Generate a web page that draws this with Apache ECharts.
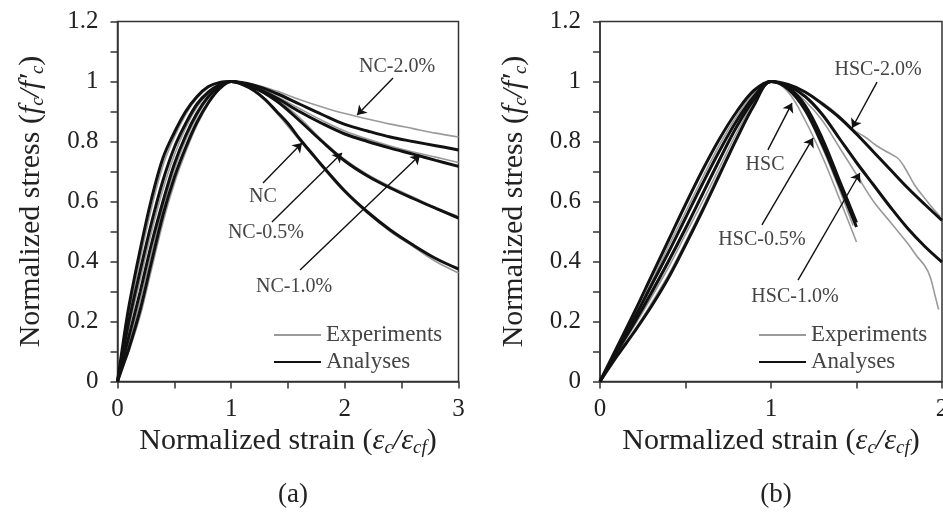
<!DOCTYPE html>
<html>
<head>
<meta charset="utf-8">
<script src="https://cdn.jsdelivr.net/npm/echarts/dist/echarts.min.js"></script>
<style>
    html, body {margin: 0; padding: 0; background: #fff;}
    #chart {width: 943px; height: 528px;}
</style>
</head>
<body>
<div id="chart"></div>
<script>
    // (a) normal concrete, strain / stress pairs
    var ncExp = [[0,0],[0.05,0.11],[0.1,0.22],[0.2,0.41],[0.3,0.58],[0.4,0.72],[0.5,0.815],[0.6,0.89],[0.7,0.945],[0.8,0.98],[0.9,0.996],[1,1],
        [1.1,0.99],[1.2,0.968],[1.3,0.935],[1.4,0.895],[1.5,0.85],[1.6,0.805],[1.7,0.76],[1.8,0.715],[2.0,0.63],[2.2,0.56],[2.4,0.5],[2.6,0.45],[2.8,0.4],[3.0,0.362]];
    var ncAna = [[0,0],[0.05,0.13],[0.1,0.25],[0.2,0.44],[0.3,0.61],[0.4,0.745],[0.5,0.83],[0.6,0.9],[0.7,0.95],[0.8,0.983],[0.9,0.997],[1,1],
        [1.1,0.99],[1.2,0.97],[1.3,0.94],[1.4,0.9],[1.5,0.86],[1.6,0.81],[1.7,0.765],[1.8,0.72],[2.0,0.635],[2.2,0.565],[2.4,0.505],[2.6,0.455],[2.8,0.41],[3.0,0.375]];
    var nc05Exp = [[0,0],[0.05,0.09],[0.1,0.18],[0.2,0.34],[0.3,0.5],[0.4,0.64],[0.5,0.755],[0.6,0.845],[0.7,0.915],[0.8,0.96],[0.9,0.99],[1,1],
        [1.2,0.982],[1.4,0.94],[1.6,0.88],[1.8,0.805],[2.0,0.74],[2.2,0.69],[2.4,0.65],[2.6,0.615],[2.8,0.58],[3.0,0.55]];
    var nc05Ana = [[0,0],[0.05,0.1],[0.1,0.2],[0.2,0.37],[0.3,0.53],[0.4,0.67],[0.5,0.78],[0.6,0.86],[0.7,0.925],[0.8,0.965],[0.9,0.99],[1,1],
        [1.2,0.98],[1.4,0.935],[1.6,0.87],[1.8,0.8],[2.0,0.735],[2.2,0.685],[2.4,0.645],[2.6,0.61],[2.8,0.577],[3.0,0.545]];
    var nc10Exp = [[0,0],[0.05,0.065],[0.1,0.13],[0.2,0.27],[0.3,0.43],[0.4,0.58],[0.5,0.705],[0.6,0.805],[0.7,0.885],[0.8,0.945],[0.9,0.983],[1,1],
        [1.2,0.985],[1.4,0.95],[1.6,0.91],[1.8,0.87],[2.0,0.835],[2.2,0.808],[2.4,0.785],[2.6,0.765],[2.8,0.748],[3.0,0.73]];
    var nc10Ana = [[0,0],[0.05,0.075],[0.1,0.15],[0.2,0.3],[0.3,0.46],[0.4,0.6],[0.5,0.725],[0.6,0.82],[0.7,0.895],[0.8,0.95],[0.9,0.985],[1,1],
        [1.2,0.98],[1.4,0.945],[1.6,0.9],[1.8,0.86],[2.0,0.825],[2.2,0.8],[2.4,0.778],[2.6,0.758],[2.8,0.737],[3.0,0.717]];
    var nc20Exp = [[0,0],[0.05,0.05],[0.1,0.1],[0.2,0.22],[0.3,0.375],[0.4,0.53],[0.5,0.66],[0.6,0.765],[0.7,0.855],[0.8,0.925],[0.9,0.975],[1,1],
        [1.2,0.99],[1.4,0.968],[1.6,0.94],[1.8,0.915],[2.0,0.893],[2.2,0.875],[2.4,0.858],[2.6,0.843],[2.8,0.828],[3.0,0.815]];
    var nc20Ana = [[0,0],[0.05,0.055],[0.1,0.11],[0.2,0.24],[0.3,0.4],[0.4,0.555],[0.5,0.68],[0.6,0.78],[0.7,0.865],[0.8,0.93],[0.9,0.977],[1,1],
        [1.2,0.988],[1.4,0.96],[1.6,0.925],[1.8,0.89],[2.0,0.857],[2.2,0.835],[2.4,0.815],[2.6,0.8],[2.8,0.786],[3.0,0.772]];

    // (b) high strength concrete
    var hscExp = [[0,0],[0.1,0.105],[0.2,0.215],[0.3,0.33],[0.4,0.45],[0.5,0.565],[0.6,0.68],[0.7,0.79],[0.8,0.885],[0.9,0.96],[1,1],
        [1.1,0.965],[1.2,0.87],[1.3,0.75],[1.4,0.61],[1.5,0.465]];
    var hscAna = [[0,0],[0.1,0.115],[0.2,0.23],[0.3,0.35],[0.4,0.47],[0.5,0.59],[0.6,0.705],[0.7,0.81],[0.8,0.9],[0.9,0.97],[1,1],
        [1.1,0.975],[1.2,0.905],[1.3,0.79],[1.4,0.655],[1.5,0.515]];
    var hsc05Exp = [[0,0],[0.1,0.095],[0.2,0.195],[0.3,0.3],[0.4,0.405],[0.5,0.515],[0.6,0.63],[0.7,0.745],[0.8,0.85],[0.9,0.94],[1,1],
        [1.1,0.975],[1.2,0.9],[1.3,0.78],[1.4,0.64],[1.48,0.52]];
    var hsc05Ana = [[0,0],[0.1,0.105],[0.2,0.21],[0.3,0.32],[0.4,0.43],[0.5,0.545],[0.6,0.66],[0.7,0.77],[0.8,0.87],[0.9,0.95],[1,1],
        [1.1,0.98],[1.2,0.92],[1.3,0.81],[1.4,0.67],[1.5,0.53]];
    var hsc10Exp = [[0,0],[0.1,0.09],[0.2,0.17],[0.3,0.26],[0.4,0.355],[0.5,0.465],[0.6,0.58],[0.7,0.7],[0.8,0.815],[0.9,0.925],[1,1],
        [1.1,0.98],[1.2,0.935],[1.3,0.87],[1.4,0.78],[1.5,0.69],[1.6,0.6],[1.7,0.53],[1.8,0.46],[1.85,0.42],[1.9,0.385],[1.93,0.35],[1.96,0.285],[1.98,0.24]];
    var hsc10Ana = [[0,0],[0.1,0.1],[0.2,0.195],[0.3,0.295],[0.4,0.4],[0.5,0.51],[0.6,0.625],[0.7,0.74],[0.8,0.85],[0.9,0.94],[1,1],
        [1.1,0.985],[1.2,0.95],[1.3,0.89],[1.4,0.81],[1.5,0.73],[1.6,0.655],[1.7,0.58],[1.8,0.51],[1.9,0.45],[2.0,0.398]];
    var hsc20Exp = [[0,0],[0.1,0.095],[0.2,0.185],[0.3,0.28],[0.4,0.38],[0.5,0.49],[0.6,0.6],[0.7,0.715],[0.8,0.83],[0.9,0.93],[1,1],
        [1.1,0.99],[1.2,0.965],[1.3,0.93],[1.4,0.885],[1.48,0.84],[1.55,0.815],[1.62,0.785],[1.68,0.765],[1.74,0.745],[1.78,0.715],[1.84,0.655],[1.9,0.61],[1.95,0.575],[1.99,0.55]];
    var hsc20Ana = [[0,0],[0.1,0.085],[0.2,0.165],[0.3,0.25],[0.4,0.345],[0.5,0.455],[0.6,0.57],[0.7,0.69],[0.8,0.81],[0.9,0.92],[1,1],
        [1.1,0.99],[1.2,0.965],[1.3,0.925],[1.4,0.88],[1.5,0.825],[1.6,0.765],[1.7,0.705],[1.8,0.645],[1.9,0.59],[2.0,0.537]];

    // labels + arrows (tail -> head), in data units
    var ncLabels = [['NC-2.0%',2.46,1.048],['NC',1.28,0.615],['NC-0.5%',1.306,0.495],['NC-1.0%',1.553,0.315]];
    var ncArrows = [[2.424,1.012,2.108,0.888],[1.28,0.662,1.623,0.795],[1.359,0.532,1.975,0.762],[1.606,0.372,2.661,0.755]];
    var hscLabels = [['HSC-2.0%',1.626,1.038],['HSC',0.965,0.722],['HSC-0.5%',0.947,0.472],['HSC-1.0%',1.14,0.282]];
    var hscArrows = [[1.62,0.998,1.474,0.845],[0.982,0.772,1.123,0.928],[0.947,0.522,1.246,0.812],[1.158,0.338,1.52,0.695]];

    var xMax = [3, 2];
    var serif = '"Liberation Serif", "Times New Roman", serif';
    var ink = '#222';

    var myChart = echarts.init(document.getElementById('chart'));

    function lineSeries(name, data, gi, isExp) {
        var c = isExp ? '#9a9a9a' : '#111';
        return {
            name: name,
            type: 'line',
            xAxisIndex: gi,
            yAxisIndex: gi,
            data: data,
            smooth: 0.35,
            symbol: 'none',
            z: isExp ? 2 : 3,
            itemStyle: {color: c},
            lineStyle: {color: c, width: isExp ? 1.6 : 3}
        };
    }

    function annoSeries(gi, labels, arrows) {
        return {
            type: 'line',
            xAxisIndex: gi,
            yAxisIndex: gi,
            data: [],
            z: 4,
            markLine: {
                silent: true,
                symbol: ['none', 'arrow'],
                symbolSize: 9,
                label: {show: false},
                lineStyle: {color: '#111', width: 1.4, type: 'solid'},
                data: arrows.map(function (a) {
                    return [{coord: [a[0], a[1]]}, {coord: [a[2], a[3]]}];
                })
            },
            markPoint: {
                silent: true,
                symbol: 'circle',
                symbolSize: 1,
                itemStyle: {color: 'rgba(0,0,0,0)'},
                label: {show: true, position: 'inside', formatter: '{b}', color: '#444', fontFamily: serif, fontSize: 20},
                data: labels.map(function (l) {
                    return {name: l[0], coord: [l[1], l[2]]};
                })
            }
        };
    }

    var titleRich = {
        t: {fontFamily: serif, fontSize: 30, color: ink, lineHeight: 32},
        i: {fontFamily: serif, fontSize: 30, fontStyle: 'italic', color: ink, lineHeight: 32},
        s: {fontFamily: serif, fontSize: 19, fontStyle: 'italic', color: ink, lineHeight: 32, verticalAlign: 'bottom'}
    };

    function xAxisFor(gi) {
        return {
            type: 'value', gridIndex: gi, min: 0, max: xMax[gi], interval: 1,
            name: '{t|Normalized strain (}{i|ε}{s|c}{i|/ε}{s|cf}{t|)}',
            nameLocation: 'middle', nameGap: 41,
            nameTextStyle: {fontFamily: serif, fontSize: 30, color: ink, rich: titleRich},
            axisLine: {show: true, onZero: false, lineStyle: {color: '#333', width: 1.5}},
            axisTick: {show: true, inside: false, length: 7, lineStyle: {color: '#333', width: 1.5}},
            minorTick: {show: true, splitNumber: 2, length: 7, lineStyle: {color: '#333', width: 1.5}},
            axisLabel: {margin: 15, fontFamily: serif, fontSize: 25, color: ink},
            splitLine: {show: false}
        };
    }

    function yAxisFor(gi) {
        return {
            type: 'value', gridIndex: gi, min: 0, max: 1.2, interval: 0.2,
            name: '{t|Normalized stress (}{i|f}{s|c}{i|/f′}{s|c}{t|)}',
            nameLocation: 'middle', nameGap: 70,
            nameTextStyle: {fontFamily: serif, fontSize: 30, color: ink, rich: titleRich},
            axisLine: {show: true, onZero: false, lineStyle: {color: '#333', width: 1.5}},
            axisTick: {show: true, inside: false, length: 7, lineStyle: {color: '#333', width: 1.5}},
            minorTick: {show: true, splitNumber: 2, length: 7, lineStyle: {color: '#333', width: 1.5}},
            axisLabel: {
                margin: 19, fontFamily: serif, fontSize: 25, color: ink,
                formatter: function (v) { return v === 0 || v === 1 ? String(v) : v.toFixed(1); }
            },
            splitLine: {show: false}
        };
    }

    function legendFor(left) {
        return {
            left: left, top: 318, orient: 'vertical',
            itemWidth: 47, itemHeight: 14, itemGap: 3,
            data: ['Experiments', 'Analyses'],
            itemStyle: {opacity: 0},
            textStyle: {fontFamily: serif, fontSize: 23, lineHeight: 24, color: '#444'}
        };
    }

    var option = {
        animation: false,
        backgroundColor: '#fff',
        title: [
            {text: '(a)', left: 288, top: 476, textAlign: 'center', textStyle: {fontFamily: serif, fontSize: 27, fontWeight: 'normal', color: ink}},
            {text: '(b)', left: 771, top: 476, textAlign: 'center', textStyle: {fontFamily: serif, fontSize: 27, fontWeight: 'normal', color: ink}}
        ],
        legend: [legendFor(268), legendFor(753)],
        grid: [
            {left: 117.5, top: 21.5, width: 341, height: 360, show: true, borderColor: '#333', borderWidth: 1.5, backgroundColor: 'transparent', outerBoundsMode: 'none'},
            {left: 600, top: 21.5, width: 342, height: 360, show: true, borderColor: '#333', borderWidth: 1.5, backgroundColor: 'transparent', outerBoundsMode: 'none'}
        ],
        xAxis: [xAxisFor(0), xAxisFor(1)],
        yAxis: [yAxisFor(0), yAxisFor(1)],
        series: [
            lineSeries('Experiments', ncExp, 0, true),
            lineSeries('Experiments', nc05Exp, 0, true),
            lineSeries('Experiments', nc10Exp, 0, true),
            lineSeries('Experiments', nc20Exp, 0, true),
            lineSeries('Analyses', ncAna, 0, false),
            lineSeries('Analyses', nc05Ana, 0, false),
            lineSeries('Analyses', nc10Ana, 0, false),
            lineSeries('Analyses', nc20Ana, 0, false),
            lineSeries('Experiments', hscExp, 1, true),
            lineSeries('Experiments', hsc05Exp, 1, true),
            lineSeries('Experiments', hsc10Exp, 1, true),
            lineSeries('Experiments', hsc20Exp, 1, true),
            lineSeries('Analyses', hscAna, 1, false),
            lineSeries('Analyses', hsc05Ana, 1, false),
            lineSeries('Analyses', hsc10Ana, 1, false),
            lineSeries('Analyses', hsc20Ana, 1, false),
            annoSeries(0, ncLabels, ncArrows),
            annoSeries(1, hscLabels, hscArrows)
        ]
    };

    myChart.setOption(option);
</script>
</body>
</html>
